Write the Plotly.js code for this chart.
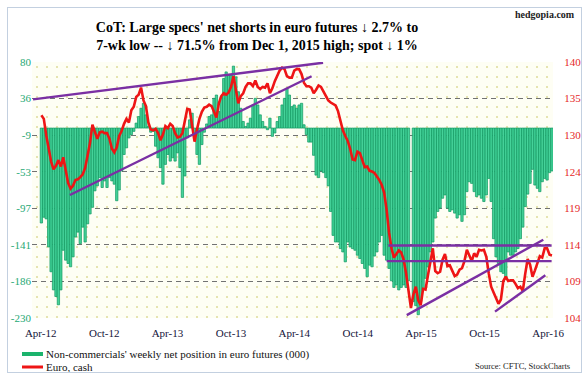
<!DOCTYPE html>
<html><head><meta charset="utf-8">
<script src="https://cdn.plot.ly/plotly-3.0.1.min.js"></script>
<style>
html,body{margin:0;padding:0;background:#fff;}
#wrap{position:relative;width:588px;height:380px;overflow:hidden;}
#dots{position:absolute;left:32px;top:62px;width:521px;height:256px;background-color:#fefef4;background-image:radial-gradient(circle,#e6e4b0 0.9px,transparent 1.3px);background-size:10px 10px;}
#chart{position:absolute;left:0;top:0;width:588px;height:380px;}
#frame{position:absolute;left:7px;top:7px;width:573px;height:364px;border:1px solid #c3d0e0;pointer-events:none;}
</style></head>
<body><div id="wrap"><div id="dots"></div><div id="chart"></div><div id="frame"></div></div>
<script>
// ---- data ----
const firstWeek = '2012-04-03';
const netPosition = [
 -115,-108,-110,-144,-174,-196,-204,-214,-196,-148,
 -160,-164,-168,-156,-132,-126,-140,-120,-138,-116,
 -104,-96,-76,-70,-60,-72,-64,-72,-60,-64,
 -68,-88,-75,-52,-32,-24,-12,-8,-4,6,
 14,24,30,16,2,-5,-4,-22,-36,-48,
 -68,-44,-32,-40,-36,-40,-30,-48,-84,-58,
 -12,10,18,-8,-32,-44,-20,-5,5,14,
 16,36,40,20,38,60,68,64,64,75,
 62,44,24,8,2,6,12,28,36,28,
 16,8,2,-2,12,-10,-6,8,14,28,
 36,48,40,26,28,24,28,30,4,-8,
 -17,-17,-33,-57,-60,-52,-54,-60,-70,-101,
 -130,-138,-138,-146,-150,-162,-138,-144,-146,-148,
 -154,-158,-164,-170,-180,-166,-168,-155,-150,-138,
 -130,-154,-160,-170,-185,-193,-190,-196,-193,-190,
 -193,-185,null,-210,-215,-226,-210,-196,-182,-168,
 -150,-138,-109,-101,-97,-85,-81,-97,-101,-99,
 -103,-109,-105,-113,-105,-77,-65,-67,-77,-83,
 -81,-85,-89,-81,-61,-89,-134,-156,-164,-174,
 -176,-183,-150,-154,-154,-150,-146,-134,-120,-95,
 -80,-67,-50,-69,-73,-77,-65,-61,-63,-54,
 -52];
const euroCash = [
 132.5,132.0,129.7,127.8,126.0,124.9,125.4,126.2,125.3,126.6,
 125.0,123.0,122.2,122.6,123.4,123.5,123.8,124.2,125.1,126.8,
 128.6,131.2,130.3,129.2,130.1,130.2,130.0,130.0,129.2,127.8,
 127.3,128.0,129.6,130.3,131.3,132.0,131.5,133.2,133.7,135.1,
 135.4,136.4,134.6,133.8,131.5,130.5,130.4,130.6,130.0,129.0,
 129.8,131.0,130.7,131.3,131.0,130.0,129.4,129.5,130.0,131.5,
 133.4,133.3,131.2,128.8,130.5,132.0,133.0,133.6,133.7,134.0,
 133.8,133.0,132.2,134.2,135.2,135.6,135.4,135.7,136.5,138.0,
 136.0,134.2,135.2,135.6,136.5,137.0,137.0,136.6,137.4,136.5,
 136.2,136.5,136.4,137.0,135.6,136.3,137.3,138.0,138.8,139.2,
 139.0,138.0,137.8,137.8,138.8,139.0,139.0,138.3,137.1,136.6,
 136.6,136.4,135.6,136.1,136.7,136.5,135.8,135.3,134.6,134.3,
 134.1,133.9,133.1,131.8,130.4,129.6,128.9,127.8,126.3,126.2,
 127.4,127.2,126.2,125.2,125.3,124.7,124.6,124.4,123.9,123.4,
 122.7,121.6,119.2,116.0,113.8,112.5,113.0,113.5,113.2,112.2,
 110.3,107.8,105.4,107.3,108.4,106.5,105.8,108.1,108.0,110.0,
 111.8,113.8,110.6,110.3,110.5,112.2,113.0,111.3,111.4,110.6,
 109.9,110.1,110.8,111.0,112.0,113.6,112.7,112.0,113.1,112.6,
 113.6,113.5,113.6,112.6,110.3,108.4,107.6,106.9,106.0,106.6,
 109.2,109.8,109.2,109.3,109.3,108.8,108.2,108.4,107.8,110.2,
 112.3,111.5,109.8,110.7,111.7,112.7,112.5,113.8,113.8,112.9,
 112.8];
const xTickDates = ['2012-04-01','2012-10-01','2013-04-01','2013-10-01','2014-04-01','2014-10-01','2015-04-01','2015-10-01','2016-04-01'];
const xTickLabels = ['Apr-12','Oct-12','Apr-13','Oct-13','Apr-14','Oct-14','Apr-15','Oct-15','Apr-16'];
const leftTickLabels = ['-230','-186','-141','-97','-53','-9','36','80'];
const rightTickLabels = ['104','109','114','119','124','130','135','140'];
const leftRange = [-230, 80];
const rightRange = [104, 140];
// hand-drawn trend lines (date, euro level)
const trendLines = [
 {x:['2012-03-10','2014-06-23'], y:[134.75,139.9]},
 {x:['2012-06-24','2014-05-21'], y:[121.3,138.0]},
 {x:['2014-12-28','2016-04-11'], y:[114.2,114.2]},
 {x:['2014-12-23','2016-04-11'], y:[112.0,112.0]},
 {x:['2015-02-19','2016-03-18'], y:[104.4,115.0]},
 {x:['2015-10-31','2016-03-24'], y:[104.9,110.0]}
];
const seriesNames = ["Non-commercials' weekly net position in euro futures (000)", 'Euro, cash'];

// ---- build ----
const t0 = Date.parse(firstWeek + 'T00:00:00Z');
const weeks = netPosition.map((_, i) => new Date(t0 + i*7*86400000).toISOString().slice(0,10));
const evenTicks = (r, n) => Array.from({length:n}, (_, k) => r[0] + (r[1]-r[0])*k/(n-1));

const serif = 'Liberation Serif, Times New Roman, serif';
const green = '#1bb36c', red = '#ee1515', purple = '#7a2fa3';

const traces = [
 {type:'bar', x:weeks, y:netPosition, yaxis:'y', name:seriesNames[0],
  marker:{color:'#45d39a', line:{color:'#0f9860', width:0.7}}, hoverinfo:'skip', showlegend:false},
 {type:'scatter', mode:'lines', x:weeks, y:euroCash, yaxis:'y2', name:seriesNames[1],
  line:{color:red, width:2.6}, hoverinfo:'skip', showlegend:false}
];
trendLines.forEach(t => traces.push({type:'scatter', mode:'lines', x:t.x, y:t.y, yaxis:'y2',
  line:{color:purple, width:2.4}, hoverinfo:'skip', showlegend:false}));

const W = 521, H = 256, L = 32, T = 62;
const px = x => (x - L)/W, py = y => (T + H - y)/H;

const layout = {
 width:588, height:380, margin:{l:32, r:35, t:62, b:62},
 paper_bgcolor:'rgba(0,0,0,0)', plot_bgcolor:'rgba(0,0,0,0)',
 bargap:0.05, showlegend:false,
 title:{text:"<b>CoT: Large specs' net shorts in euro futures ↓ 2.7% to<br>7-wk low -- ↓ 71.5% from Dec 1, 2015 high; spot ↓ 1%</b>",
   font:{family:serif, size:14, color:'#000'}, x:257/588, xanchor:'center', xref:'container',
   y:1-32/380, yanchor:'middle', yref:'container'},
 xaxis:{type:'date', range:['2012-03-07','2016-04-15'], tickvals:xTickDates, ticktext:xTickLabels,
   showgrid:false, zeroline:false, showline:false, ticks:'outside', ticklen:5, tickcolor:'rgba(0,0,0,0)',
   tickfont:{family:serif, size:11, color:'#14143a'}},
 yaxis:{range:leftRange, tickvals:evenTicks(leftRange, 8), ticktext:leftTickLabels,
   showgrid:true, gridcolor:'#727272', gridwidth:1, griddash:'5px,4px', zeroline:false, showline:false,
   ticks:'', tickfont:{family:serif, size:11, color:'#26a874'}},
 yaxis2:{range:rightRange, overlaying:'y', side:'right', tickvals:evenTicks(rightRange, 8), ticktext:rightTickLabels,
   showgrid:false, zeroline:false, showline:false, ticks:'outside', ticklen:8, tickcolor:'rgba(0,0,0,0)',
   tickfont:{family:serif, size:11, color:'#e52828'}},
 shapes:[
  {type:'line', xref:'paper', yref:'paper', x0:px(22), x1:px(43), y0:py(354), y1:py(354), line:{color:green, width:4}},
  {type:'line', xref:'paper', yref:'paper', x0:px(22), x1:px(43), y0:py(367), y1:py(367), line:{color:red, width:3}}
 ],
 annotations:[
  {xref:'paper', yref:'paper', x:px(44), y:py(354), xanchor:'left', yanchor:'middle', showarrow:false,
   text:seriesNames[0], font:{family:serif, size:11, color:'#111'}},
  {xref:'paper', yref:'paper', x:px(44), y:py(367), xanchor:'left', yanchor:'middle', showarrow:false,
   text:seriesNames[1], font:{family:serif, size:11, color:'#111'}},
  {xref:'paper', yref:'paper', x:px(577), y:py(14), xanchor:'right', yanchor:'middle', showarrow:false,
   text:'<b>hedgopia.com</b>', font:{family:serif, size:10, color:'#222'}},
  {xref:'paper', yref:'paper', x:px(572), y:py(366), xanchor:'right', yanchor:'middle', showarrow:false,
   text:'Source: CFTC, StockCharts', font:{family:serif, size:8.5, color:'#222'}}
 ]
};
Plotly.newPlot('chart', traces, layout, {staticPlot:true, displayModeBar:false});
</script>
</body></html>
